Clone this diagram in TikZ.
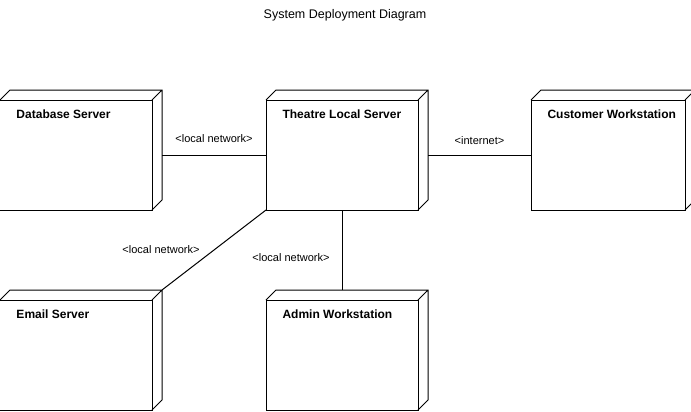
\documentclass[tikz,border=0pt]{standalone}
\usepackage{fontspec}
\setmainfont{Liberation Sans}
\usetikzlibrary{positioning}

\begin{document}
\begin{tikzpicture}[x=1bp,y=-1bp,
    line width=1bp,
    nodename/.style={font={\fontsize{12bp}{14bp}\selectfont\bfseries}, inner sep=0pt},
    udnode/.style={draw, rectangle, minimum width=152bp, minimum height=110bp, inner sep=0pt, outer sep=0pt,
      label={[nodename, anchor=base west, xshift=16bp, yshift=-18bp]north west:#1}},
    connlabel/.style={font={\fontsize{11bp}{13bp}\selectfont}, inner sep=0pt},
    titletext/.style={font={\fontsize{12.5bp}{15bp}\selectfont}}
    ]
    \useasboundingbox (0,0) rectangle (691,411);

    \node [titletext] (title) at (345,15.5) {System Deployment Diagram};

    \node [udnode=Database Server] (db) at (76,155) {};
    \node [udnode=Theatre Local Server, right=114bp of db] (theatre) {};
    \node [udnode=Customer Workstation, minimum width=154bp, right=113bp of theatre] (customer) {};
    \node [udnode=Email Server, below=90bp of db] (email) {};
    \node [udnode=Admin Workstation, below=90bp of theatre] (admin) {};

    % depth of the boxes
    \foreach \n in {db,theatre,customer,email,admin}
      \draw (\n.north west) -- ++(10bp,10bp) -- ([shift={(10bp,10bp)}]\n.north east)
        -- ([shift={(10bp,10bp)}]\n.south east) -- (\n.south east)
        (\n.north east) -- ++(10bp,10bp);

    \draw ([xshift=10bp]db.east) -- node[connlabel, above=12bp] (dbnet) {<local network>} (theatre.west);
    \draw ([xshift=10bp]theatre.east) -- node[connlabel, above=10bp] (webnet) {<internet>} (customer.west);
    \draw (theatre.south west) -- node[connlabel, left=14bp] (mailnet) {<local network>} ([shift={(10bp,10bp)}]email.north east);
    \draw (theatre.south) -- node[connlabel, pos=0.6, left=12bp] (adminnet) {<local network>} ([yshift=10bp]admin.north);
\end{tikzpicture}
\end{document}
